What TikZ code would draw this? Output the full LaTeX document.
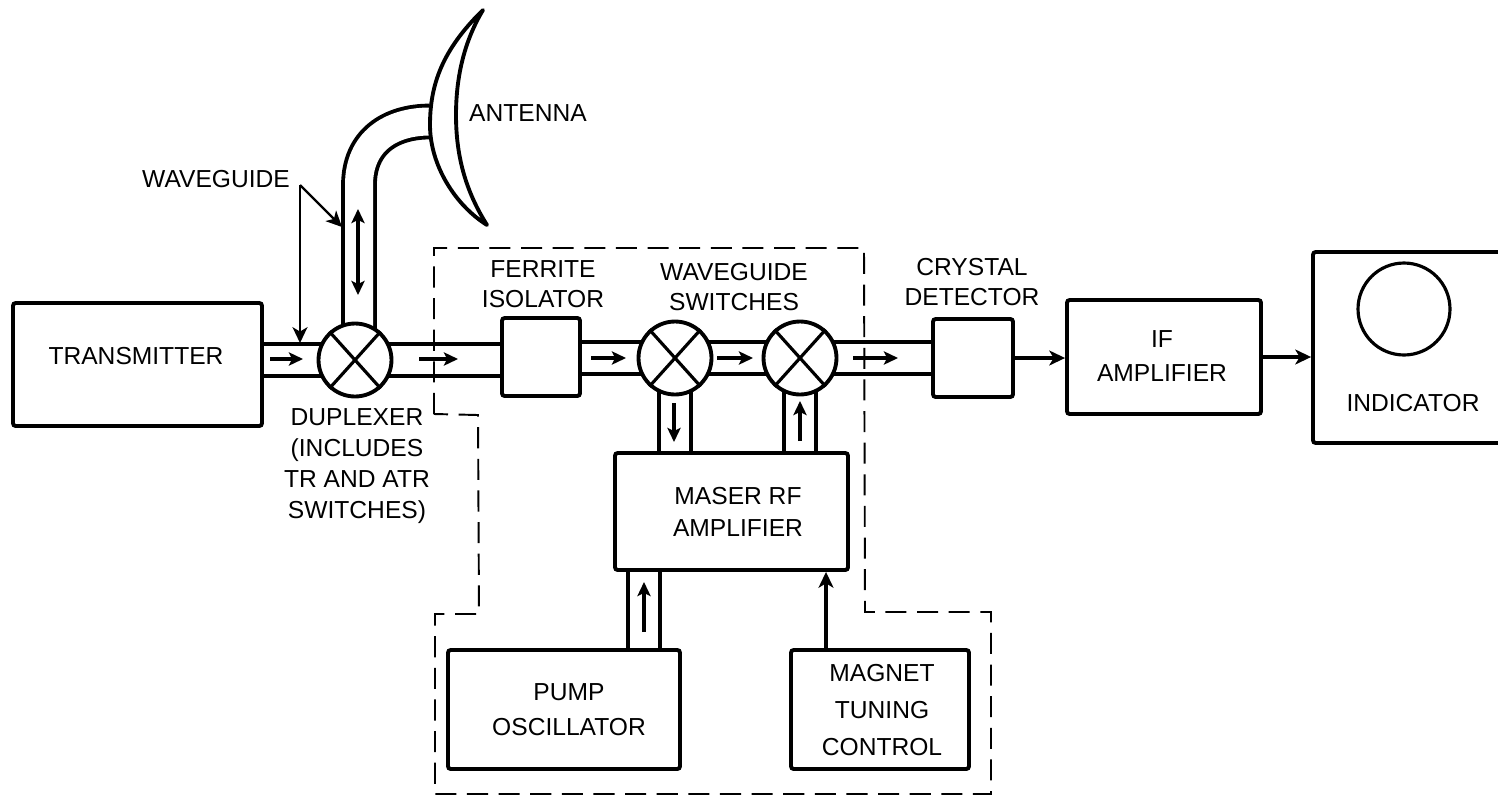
\documentclass[tikz,border=0pt]{standalone}
\usepackage{fontspec}
\setmainfont{Liberation Sans}
\usetikzlibrary{arrows.meta, backgrounds}
\tikzset{
  flowtip/.tip={Stealth[length=8pt, width=7.5pt, inset=1.8pt]},
  sigtip/.tip={Stealth[length=9pt, width=8.5pt, inset=2.5pt]},
  block/.style={rectangle, rounded corners=1.5pt, draw=black, fill=white, line width=2.2pt, inner sep=0pt},
  xswitch/.style={circle, draw=black, fill=white, line width=2.2pt, inner sep=0pt, minimum size=1.46cm},
  guide/.style={line width=2.2pt, double=white, double distance=0.56cm},
  flow/.style={-flowtip, line width=1.9pt},
  sigline/.style={-sigtip, line width=2pt},
  leader/.style={-sigtip, line width=1.3pt},
  bound/.style={line width=1.1pt, dash pattern=on 12pt off 6pt},
  lbl/.style={align=center, inner sep=0pt, font=\fontsize{14}{17}\selectfont},
}
\begin{document}
\begin{tikzpicture}[x=0.02cm, y=-0.02cm]
\useasboundingbox (0,0) rectangle (1498,795);

% boxes
\node[block, minimum width=4.98cm, minimum height=2.46cm] (transmitter) at (137.5,364.5) {};
\node[block, minimum width=1.56cm, minimum height=1.56cm] (ferrite) at (541,357) {};
\node[block, minimum width=1.60cm, minimum height=1.56cm] (crystal) at (973,358) {};
\node[block, minimum width=3.88cm, minimum height=2.28cm] (ifamp) at (1164,357) {};
\node[block, minimum width=4.14cm, minimum height=3.82cm] (indicator) at (1416.5,347.5) {};
\node[block, minimum width=4.66cm, minimum height=2.34cm] (maser) at (731.5,511.5) {};
\node[block, minimum width=4.64cm, minimum height=2.38cm] (pump) at (564,709.5) {};
\node[block, minimum width=3.56cm, minimum height=2.38cm] (magnet) at (880,709.5) {};

% switches
\node[xswitch] (duplexer) at (355,360) {};
\node[xswitch] (switchA) at (675,358) {};
\node[xswitch] (switchB) at (800,358) {};
\foreach \sw in {duplexer, switchA, switchB}
  \draw[line width=1.8pt] (\sw.48) -- (\sw.228) (\sw.132) -- (\sw.312);

% screen
\node[circle, draw=black, line width=1.8pt, minimum size=1.84cm, inner sep=0pt] (screen) at (1404,309) {};

\coordinate (bend) at (359,185);
\coordinate (feed) at (430,121.5);
\coordinate (pumpout) at (644,650);
\coordinate (magnetout) at (826,650);

% waveguide runs
\begin{pgfonlayer}{background}
\draw[guide] (transmitter.east |- duplexer.center) -- (duplexer.center);
\draw[guide] (duplexer.center) -- (ferrite.west |- duplexer.center);
\draw[guide] (ferrite.east |- switchA.center) -- (switchA.center);
\draw[guide] (switchA.center) -- (switchB.center);
\draw[guide] (switchB.center) -- (crystal.west |- switchB.center);
\draw[guide] (switchA.center) -- (switchA.center |- maser.north);
\draw[guide] (switchB.center) -- (switchB.center |- maser.north);
\draw[guide] (pumpout) -- (pumpout |- maser.south);
\draw[guide] (bend |- duplexer.center) -- (bend) .. controls (359,142) and (390,121.5) .. (feed);
\end{pgfonlayer}

% antenna
\draw[line width=2.2pt, fill=white, line join=round] (483,10) .. controls (442,50) and (430,85) .. (430,125)
  .. controls (430,165) and (455,205) .. (487,225)
  .. controls (465,190) and (456,155) .. (456,115)
  .. controls (456,75) and (465,40) .. cycle;

% signal lines
\draw[sigline] (crystal.east) -- (crystal.east -| ifamp.west);
\draw[sigline] (ifamp.east) -- (ifamp.east -| indicator.west);
\draw[sigline] (magnetout) -- (magnetout |- maser.south);

% flow inside the guides
\foreach \i/\sx/\sy/\ex/\ey in {a/270/359/303/359, b/419/359/458/359, c/591/358/626/358, d/717/358/753/358,
    e/853/358/898/358, f/674/403/674/442, g/800/441/800/401, h/644/632/644/582} {
  \coordinate (flow\i s) at (\sx,\sy);
  \coordinate (flow\i e) at (\ex,\ey);
  \draw[flow] (flow\i s) -- (flow\i e);
}
\coordinate (flowup) at (358,209);
\coordinate (flowdn) at (358,295);
\draw[flowtip-flowtip, line width=1.9pt] (flowup) -- (flowdn);

% pointers
\coordinate (wgtail) at (300,185);
\coordinate (wgrail) at (300,343);
\coordinate (wgtube) at (342,227);
\draw[leader] (wgtail) -- (wgrail);
\draw[leader] (wgtail) -- (wgtube);

% maser boundary
\draw[bound] (434,414) -- (434,248) -- (864,248) -- (865,612) -- (991,612) -- (991,794) -- (435,794) -- (435,614) -- (479,614) -- (478,415) -- (434,414);

% labels
\node[lbl] (waveguidelbl) at (216,179) {WAVEGUIDE};
\node[lbl] (antennalbl) at (528,113) {ANTENNA};
\node[lbl] (transmitterlbl) at (136,356) {TRANSMITTER};
\node[lbl] (ferritelbl) at (543,284) {FERRITE\\ISOLATOR};
\node[lbl] (switcheslbl) at (734,287) {WAVEGUIDE\\SWITCHES};
\node[lbl] (crystallbl) at (972,282) {CRYSTAL\\DETECTOR};
\node[lbl] (duplexerlbl) at (357,466) {DUPLEXER\\[0.8pt](INCLUDES\\[0.8pt]TR AND ATR\\[0.8pt]SWITCHES)};
\node[lbl] (maserlbl) at (738,512) {MASER RF\\[1pt]AMPLIFIER};
\node[lbl] (iflbl) at (1162,356) {IF\\[2pt]AMPLIFIER};
\node[lbl] (indicatorlbl) at (1413,403) {INDICATOR};
\node[lbl] (pumplbl) at (569,710) {PUMP\\[3pt]OSCILLATOR};
\node[lbl] (magnetlbl) at (882,710) {MAGNET\\[4pt]TUNING\\[4pt]CONTROL};
\end{tikzpicture}
\end{document}
